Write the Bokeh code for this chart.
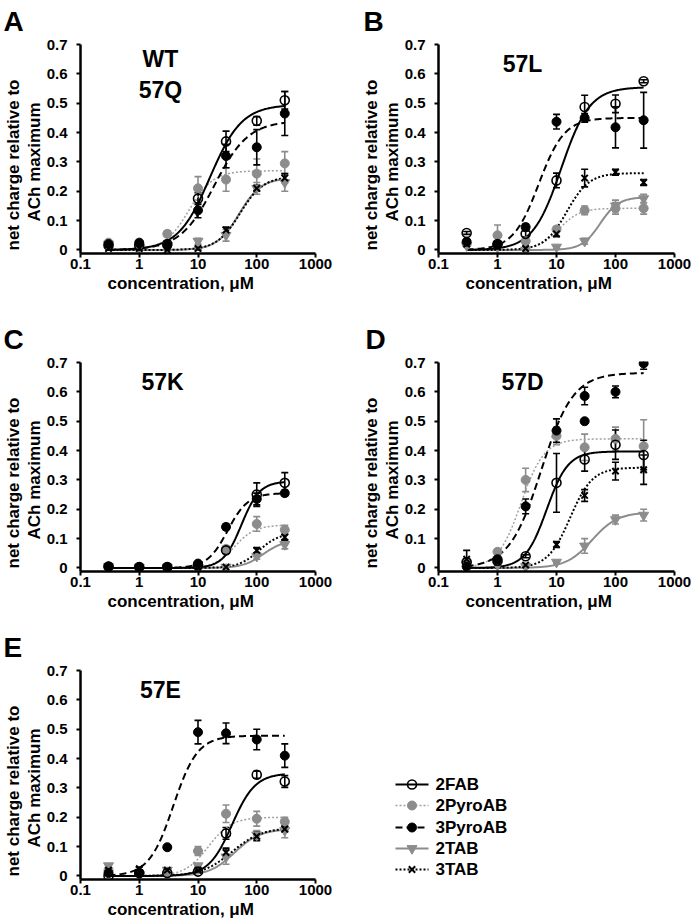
import numpy as np
from bokeh.plotting import figure
from bokeh.layouts import column, row
from bokeh.models import (Range1d, FixedTicker, CustomJSTickFormatter, Label, Whisker,
                          TeeHead, ColumnDataSource, Title)
from bokeh.embed import file_html
from bokeh.resources import INLINE

# ---------------- data ----------------
conc = [0.3, 1, 3, 10, 30, 100, 300]
series = ["2FAB", "2PyroAB", "3PyroAB", "2TAB", "3TAB"]

# Panel A  (WT 57Q)
a_2fab = [0.015, 0.015, 0.02, 0.175, 0.37, 0.44, 0.51]
a_2fab_err = [0.005, 0.005, 0.005, 0.02, 0.035, 0.015, 0.03]
a_2pyro = [0.025, 0.02, 0.055, 0.21, 0.24, 0.26, 0.295]
a_2pyro_err = [0.005, 0.005, 0.01, 0.04, 0.04, 0.05, 0.04]
a_3pyro = [0.02, 0.025, 0.015, 0.135, 0.32, 0.35, 0.465]
a_3pyro_err = [0.005, 0.005, 0.005, 0.025, 0.04, 0.06, 0.075]
a_2tab = [0.02, 0.01, 0.015, 0.03, 0.05, 0.21, 0.23]
a_2tab_err = [0.005, 0.005, 0.005, 0.01, 0.02, 0.02, 0.03]
a_3tab = [0.005, 0.005, 0.0, 0.005, 0.068, 0.21, 0.245]
a_3tab_err = [0, 0, 0, 0.005, 0.01, 0.01, 0.015]
a_fit_imax = [0.495, 0.27, 0.44, 0.245, 0.25]
a_fit_ec50 = [16, 7, 19, 50, 52]
a_fit_n = [1.6, 2.1, 1.5, 2.3, 2.2]

# Panel B  (57L)
b_2fab = [0.058, 0.02, 0.055, 0.237, 0.487, 0.498, 0.575]
b_2fab_err = [0.005, 0.005, 0.01, 0.025, 0.04, 0.03, 0.005]
b_2pyro = [0.02, 0.05, 0.03, 0.07, 0.135, 0.142, 0.142]
b_2pyro_err = [0.005, 0.035, 0.01, 0.01, 0.015, 0.02, 0.02]
b_3pyro = [0.028, 0.018, 0.078, 0.437, 0.45, 0.418, 0.442]
b_3pyro_err = [0.005, 0.005, 0.01, 0.025, 0.015, 0.07, 0.095]
b_2tab = [0.015, 0.01, 0.0, 0.01, 0.03, 0.15, 0.175]
b_2tab_err = [0, 0, 0, 0.005, 0.01, 0.02, 0.015]
b_3tab = [0.02, 0.01, 0.005, 0.055, 0.245, 0.265, 0.23]
b_3tab_err = [0, 0.005, 0.005, 0.01, 0.03, 0.01, 0.01]
b_fit_imax = [0.555, 0.142, 0.45, 0.18, 0.262]
b_fit_ec50 = [12, 11, 5, 55, 15]
b_fit_n = [1.8, 2.5, 2.0, 2.8, 2.3]

# Panel C  (57K)
c_2fab = [0.005, 0.003, 0.003, 0.01, 0.06, 0.25, 0.29]
c_2fab_err = [0, 0, 0, 0.005, 0.01, 0.04, 0.035]
c_2pyro = [0.005, 0.003, 0.003, 0.01, 0.065, 0.15, 0.13]
c_2pyro_err = [0, 0, 0, 0, 0.01, 0.025, 0.015]
c_3pyro = [0.005, 0.003, 0.003, 0.015, 0.14, 0.235, 0.255]
c_3pyro_err = [0, 0, 0, 0.005, 0.01, 0.02, 0.01]
c_2tab = [0.005, 0.003, 0.003, 0.003, 0.003, 0.04, 0.08]
c_2tab_err = [0, 0, 0, 0, 0, 0.01, 0.015]
c_3tab = [0.005, 0.003, 0.003, 0.003, 0.003, 0.06, 0.105]
c_3tab_err = [0, 0, 0, 0, 0, 0.01, 0.01]
c_fit_imax = [0.295, 0.146, 0.255, 0.095, 0.12]
c_fit_ec50 = [55, 42, 32, 130, 110]
c_fit_n = [2.8, 2.5, 2.5, 2.5, 2.5]

# Panel D  (57D)
d_2fab = [0.02, 0.025, 0.04, 0.29, 0.37, 0.42, 0.385]
d_2fab_err = [0.005, 0.01, 0.005, 0.1, 0.04, 0.05, 0.05]
d_2pyro = [0.02, 0.055, 0.3, 0.45, 0.411, 0.44, 0.415]
d_2pyro_err = [0.005, 0.01, 0.04, 0.03, 0.045, 0.04, 0.09]
d_3pyro = [0.005, 0.03, 0.21, 0.468, 0.586, 0.6, 0.697]
d_3pyro_err = [0.005, 0.01, 0.025, 0.04, 0.03, 0.02, 0.02]
d_2tab = [0.01, 0.01, 0.005, 0.02, 0.075, 0.165, 0.18]
d_2tab_err = [0, 0, 0, 0.005, 0.025, 0.015, 0.02]
d_3tab = [0.03, 0.02, 0.01, 0.08, 0.247, 0.33, 0.335]
d_3tab_err = [0.03, 0.01, 0.005, 0.01, 0.02, 0.03, 0.05]
d_fit_imax = [0.397, 0.44, 0.665, 0.19, 0.342]
d_fit_ec50 = [6.8, 2.5, 5.5, 40, 17]
d_fit_n = [2.4, 2.2, 1.6, 2.0, 2.3]
d_extra_x = [30]
d_extra_y = [0.5]

# Panel E  (57E)
e_2fab = [0.0, 0.01, 0.01, 0.015, 0.145, 0.345, 0.322]
e_2fab_err = [0, 0, 0, 0.005, 0.02, 0.012, 0.02]
e_2pyro = [0.02, 0.01, 0.01, 0.085, 0.212, 0.195, 0.185]
e_2pyro_err = [0.005, 0, 0, 0.015, 0.03, 0.025, 0.015]
e_3pyro = [0.01, 0.01, 0.098, 0.49, 0.486, 0.465, 0.41]
e_3pyro_err = [0.005, 0.005, 0, 0.04, 0.035, 0.035, 0.04]
e_2tab = [0.035, 0.005, 0.02, 0.035, 0.065, 0.14, 0.155]
e_2tab_err = [0.005, 0, 0.005, 0.005, 0.025, 0.015, 0.025]
e_3tab = [0.02, 0.025, 0.02, 0.02, 0.08, 0.135, 0.16]
e_3tab_err = [0.005, 0.005, 0.005, 0.005, 0.015, 0.015, 0.01]
e_fit_imax = [0.35, 0.2, 0.478, 0.16, 0.165]
e_fit_ec50 = [38, 15, 3.8, 42, 38]
e_fit_n = [2.2, 2.2, 2.1, 2.0, 1.7]

x_ticks = [0.1, 1, 10, 100, 1000]
y_ticks = [0, 0.1, 0.2, 0.3, 0.4, 0.5, 0.6, 0.7]

# ---------------- styles ----------------
FONT = "Liberation Sans"
GRAY = "#8c8c8c"
LGRAY = "#a0a0a0"
STYLE = {
    "2FAB": dict(marker="circle", size=9, fill_color=None, mcolor="black",
                 mlw=1.6, lcolor="black", lw=2.0, dash="solid"),
    "2PyroAB": dict(marker="circle", size=9, fill_color=GRAY, mcolor=GRAY,
                    mlw=1, lcolor=LGRAY, lw=1.5, dash="2 2"),
    "3PyroAB": dict(marker="circle", size=9, fill_color="black", mcolor="black",
                    mlw=1, lcolor="black", lw=2.0, dash="7 4"),
    "2TAB": dict(marker="inverted_triangle", size=10, fill_color=GRAY, mcolor=GRAY,
                 mlw=1, lcolor=GRAY, lw=2.0, dash="solid"),
    "3TAB": dict(marker="x", size=9, fill_color=None, mcolor="black",
                 mlw=2, lcolor="black", lw=2.0, dash="2 2"),
}
DRAW_ORDER = ["2TAB", "2PyroAB", "3TAB", "3PyroAB", "2FAB"]

Y_START, Y_END = -0.012, 0.7035
FRAME_H = 210
S_PER_UNIT = FRAME_H / (Y_END - Y_START)


def hill(x, imax, ec50, n):
    return imax * x ** n / (x ** n + ec50 ** n)


def make_panel(vals, errs, fit, cfg, extra=None):
    mbl, fw, mbr, mbt, mbb = cfg["mb"]
    p = figure(x_axis_type="log", x_range=Range1d(0.1, 1000), y_range=Range1d(Y_START, Y_END),
               frame_width=fw, frame_height=FRAME_H, min_border_left=mbl, min_border_right=mbr,
               min_border_top=mbt, min_border_bottom=mbb, output_backend="svg",
               toolbar_location=None)
    p.outline_line_color = None
    p.grid.visible = False
    p.background_fill_color = "white"
    p.border_fill_color = "white"

    def off2x(dpx):
        return 10 ** (-1 + 4.0 * dpx / fw)

    for ax in (p.xaxis, p.yaxis):
        ax.axis_line_width = 2.5
        ax.axis_line_color = "black"
        ax.major_tick_line_width = 2
        ax.major_tick_in = 0
        ax.major_tick_out = 4
        ax.minor_tick_in = 0
        ax.minor_tick_out = 0
        ax.major_label_text_font = FONT
        ax.major_label_text_font_style = "bold"
        ax.major_label_text_font_size = "15px"
        ax.major_label_text_color = "black"
    p.xaxis.ticker = FixedTicker(ticks=x_ticks)
    p.xaxis.formatter = CustomJSTickFormatter(code="return tick < 1 ? tick.toFixed(1) : tick.toFixed(0);")
    p.xaxis.major_label_standoff = 1
    p.yaxis.ticker = FixedTicker(ticks=y_ticks)
    p.yaxis.formatter = CustomJSTickFormatter(code="return (Math.round(tick*10)/10).toString();")
    p.yaxis.bounds = (Y_START, 0.7)
    p.yaxis.major_label_standoff = 9

    xs = np.logspace(np.log10(0.3), np.log10(300), 200)
    for name in DRAW_ORDER:
        i = series.index(name)
        st = STYLE[name]
        ys = hill(xs, fit[0][i], fit[1][i], fit[2][i])
        p.line(xs, ys, line_color=st["lcolor"], line_width=st["lw"], line_dash=st["dash"])
    for name in DRAW_ORDER:
        i = series.index(name)
        st = STYLE[name]
        v = np.array(vals[i], dtype=float)
        e = np.array(errs[i], dtype=float)
        m = e > 0
        src = ColumnDataSource(dict(x=np.array(conc)[m], up=(v + e)[m], lo=(v - e)[m]))
        w = Whisker(source=src, base="x", upper="up", lower="lo", dimension="height",
                    line_color=st["mcolor"], line_width=1.6,
                    upper_head=TeeHead(size=7, line_color=st["mcolor"], line_width=1.6),
                    lower_head=TeeHead(size=7, line_color=st["mcolor"], line_width=1.6))
        p.add_layout(w)
        p.scatter(conc, vals[i], marker=st["marker"], size=st["size"], fill_color=st["fill_color"],
                  line_color=st["mcolor"], line_width=st["mlw"])
    if extra is not None:
        p.scatter(extra[0], extra[1], marker="circle", size=9, fill_color="black", line_color="black")

    # panel letter (above)
    p.add_layout(Title(text=cfg["letter"], align="left", offset=cfg["letter_off"],
                       vertical_align="top", standoff=10, text_font=FONT, text_font_style="bold",
                       text_font_size="28px", text_color="black"), "above")
    # y axis title, two lines (stacked outward)
    p.add_layout(Title(text="ACh maximum", align="left", offset=32,
                       standoff=0, text_font=FONT, text_font_style="bold",
                       text_font_size="17px", text_color="black"), "left")
    p.add_layout(Title(text="net charge relative to", align="left", offset=3,
                       standoff=0, text_font=FONT, text_font_style="bold",
                       text_font_size="17px", text_color="black"), "left")
    # x axis title
    p.add_layout(Title(text="concentration, \u03bcM", align="left", offset=27, standoff=0,
                       text_font=FONT, text_font_style="bold", text_font_size="17px",
                       text_color="black"), "below")
    # in-plot titles
    for (dx, yv, t) in cfg["titles"]:
        p.add_layout(Label(x=off2x(dx), y=yv, text=t, text_font=FONT, text_font_style="bold",
                           text_font_size="23px", text_align="center", text_baseline="middle",
                           text_color="black"))
    return p


# (left border, frame width, right border, top border, bottom border)
cfgA = dict(mb=(80, 235, 25, 43, 47), letter="A", letter_off=-77,
            titles=[(80, 0.651, "WT"), (80, 0.545, "57Q")])
cfgB = dict(mb=(98, 236, 19, 43, 47), letter="B", letter_off=-75,
            titles=[(84, 0.635, "57L")])
cfgC = dict(mb=(80, 235, 25, 61, 47), letter="C", letter_off=-77,
            titles=[(82, 0.635, "57K")])
cfgD = dict(mb=(98, 236, 19, 58, 50), letter="D", letter_off=-73,
            titles=[(84, 0.635, "57D")])
cfgE = dict(mb=(80, 235, 25, 51, 45), letter="E", letter_off=-77,
            titles=[(80, 0.635, "57E")])

pA = make_panel([a_2fab, a_2pyro, a_3pyro, a_2tab, a_3tab],
                [a_2fab_err, a_2pyro_err, a_3pyro_err, a_2tab_err, a_3tab_err],
                (a_fit_imax, a_fit_ec50, a_fit_n), cfgA)
pB = make_panel([b_2fab, b_2pyro, b_3pyro, b_2tab, b_3tab],
                [b_2fab_err, b_2pyro_err, b_3pyro_err, b_2tab_err, b_3tab_err],
                (b_fit_imax, b_fit_ec50, b_fit_n), cfgB)
pC = make_panel([c_2fab, c_2pyro, c_3pyro, c_2tab, c_3tab],
                [c_2fab_err, c_2pyro_err, c_3pyro_err, c_2tab_err, c_3tab_err],
                (c_fit_imax, c_fit_ec50, c_fit_n), cfgC)
pD = make_panel([d_2fab, d_2pyro, d_3pyro, d_2tab, d_3tab],
                [d_2fab_err, d_2pyro_err, d_3pyro_err, d_2tab_err, d_3tab_err],
                (d_fit_imax, d_fit_ec50, d_fit_n), cfgD, extra=(d_extra_x, d_extra_y))
pE = make_panel([e_2fab, e_2pyro, e_3pyro, e_2tab, e_3tab],
                [e_2fab_err, e_2pyro_err, e_3pyro_err, e_2tab_err, e_3tab_err],
                (e_fit_imax, e_fit_ec50, e_fit_n), cfgE)

# ---------------- legend panel (page-pixel coordinates) ----------------
lf = figure(frame_width=353, frame_height=306, x_range=Range1d(340, 693), y_range=Range1d(924, 618),
            min_border=0, x_axis_location=None, y_axis_location=None, output_backend="svg",
            toolbar_location=None)
lf.outline_line_color = None
lf.grid.visible = False
LEG_ROWS_Y = [733, 754, 776, 797, 818]
for k, name in enumerate(series):
    st = STYLE[name]
    yy = LEG_ROWS_Y[k]
    lf.line([395, 428], [yy, yy], line_color=st["lcolor"], line_width=st["lw"], line_dash=st["dash"])
    lf.scatter([411.5], [yy], marker=st["marker"], size=st["size"], fill_color=st["fill_color"],
               line_color=st["mcolor"], line_width=st["mlw"])
    lf.add_layout(Label(x=435, y=yy, text=name, text_font=FONT, text_font_style="bold",
                        text_font_size="17px", text_baseline="middle", text_color="black"))

layout = column(row(pA, pB), row(pC, pD), row(pE, lf))

with open("out.html", "w") as f:
    f.write(file_html(layout, INLINE))
